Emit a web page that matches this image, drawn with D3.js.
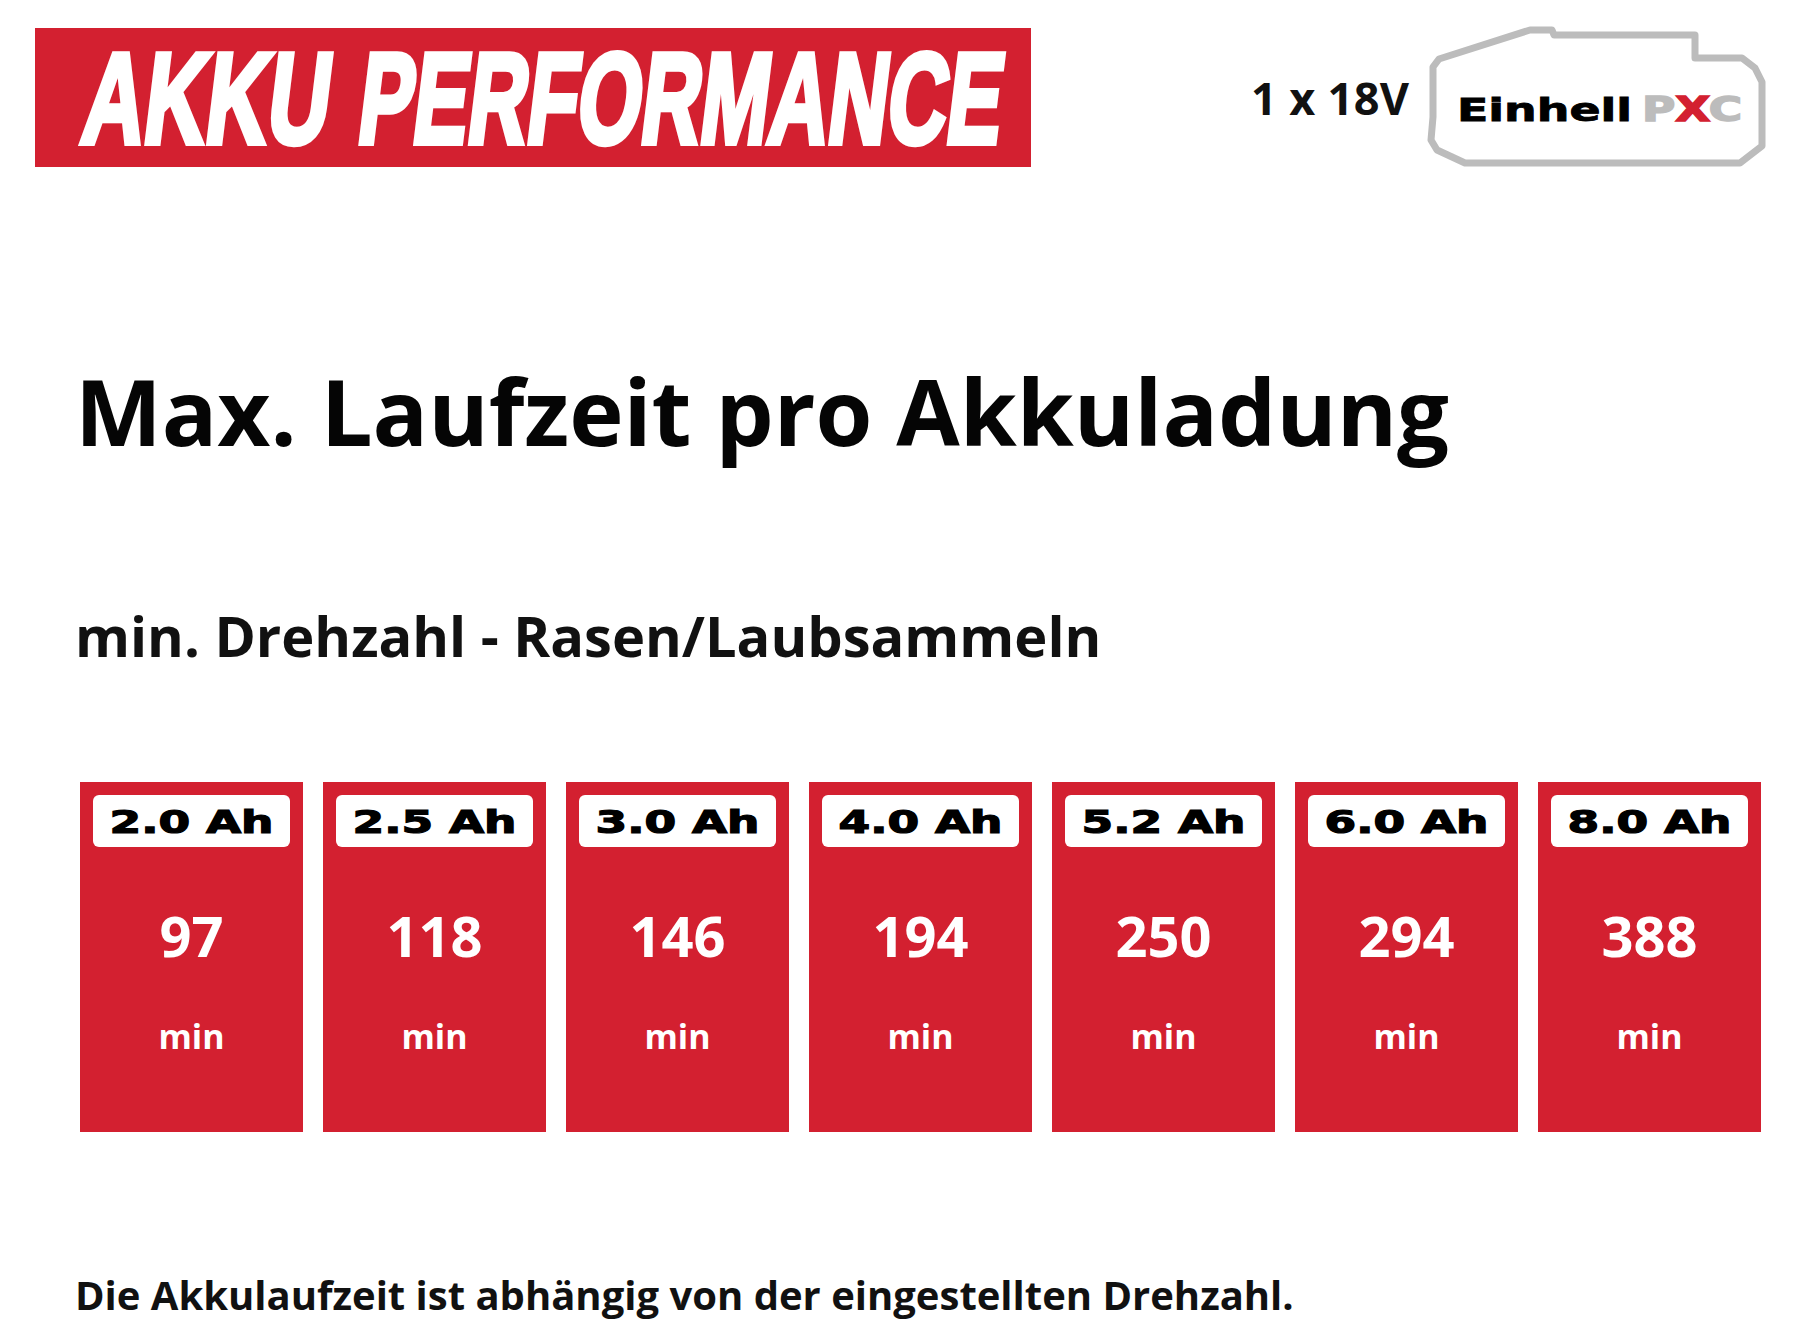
<!DOCTYPE html>
<html><head><meta charset="utf-8">
<script src="https://cdn.jsdelivr.net/npm/d3@7"></script>
<style>html,body{margin:0;padding:0;background:#fff}svg{display:block}text{font-family:"Open Sans",sans-serif}</style>
</head><body><div id="c"></div>
<script>
const capacities = ["2.0 Ah","2.5 Ah","3.0 Ah","4.0 Ah","5.2 Ah","6.0 Ah","8.0 Ah"];
const minutes = [97,118,146,194,250,294,388];
const unit = "min";
const bannerWords = ["AKKU","PERFORMANCE"];
const voltageText = "1 x 18V";
const titleText = "Max. Laufzeit pro Akkuladung";
const subtitleText = "min. Drehzahl - Rasen/Laubsammeln";
const footerText = "Die Akkulaufzeit ist abhängig von der eingestellten Drehzahl.";
const RED = "#d32030", GREY = "#bcbcbc";

const svg = d3.select("#c").append("svg").attr("width",1801).attr("height",1344);

// banner
svg.append("rect").attr("x",35).attr("y",28).attr("width",996).attr("height",139).attr("fill",RED);
const bannerPlace = [[79,247],[355,643]];
svg.selectAll("text.banner").data(bannerWords).join("text").attr("class","banner").text(d=>d)
  .attr("transform",(d,i)=>`translate(${bannerPlace[i][0]},143) skewX(-7)`)
  .attr("textLength",(d,i)=>bannerPlace[i][1]).attr("lengthAdjust","spacingAndGlyphs")
  .style("font-family","'Liberation Sans Narrow','Liberation Sans'").style("font-weight",700)
  .style("font-size","129px")
  .attr("fill","#fff").attr("stroke","#fff").attr("stroke-width",6).attr("stroke-linejoin","miter");

// battery
svg.append("text").text(voltageText).attr("x",1251).attr("y",115).attr("textLength",158)
  .style("font-size","45px").style("font-weight",700).attr("fill","#111");
const outline = [[1433,67],[1439,59],[1530,30],[1552,30],[1554,35],[1695,35],[1695,58],[1742,58],[1755,68],[1762,82],[1762,146],[1740,163],[1465,163],[1437,150],[1431,140],[1433,117]];
svg.append("path").attr("d",d3.line().curve(d3.curveLinearClosed)(outline))
  .attr("fill","none").attr("stroke",GREY).attr("stroke-width",7).attr("stroke-linejoin","round");
svg.append("text").text("Einhell").attr("x",1457).attr("y",121).attr("textLength",175).attr("lengthAdjust","spacingAndGlyphs")
  .style("font-family","'DejaVu Sans'").style("font-weight",700).style("font-size","32px")
  .attr("fill","#000").attr("stroke","#000").attr("stroke-width",0.8);
const pxc = svg.append("text").attr("x",1642).attr("y",121).attr("textLength",100).attr("lengthAdjust","spacingAndGlyphs")
  .style("font-family","'DejaVu Sans'").style("font-weight",700).style("font-size","33px");
pxc.append("tspan").text("P").attr("fill",GREY).attr("stroke",GREY).attr("stroke-width",1.5);
pxc.append("tspan").text("X").attr("fill",RED).attr("stroke",RED).attr("stroke-width",1.5);
pxc.append("tspan").text("C").attr("fill",GREY).attr("stroke",GREY).attr("stroke-width",1.5);

// titles
svg.append("text").text(titleText).attr("x",75).attr("y",446)
  .style("font-size","92px").style("font-weight",700).attr("fill","#050505");
svg.append("text").text(subtitleText).attr("x",75).attr("y",657)
  .style("font-size","56px").style("font-weight",700).attr("fill","#111");
svg.append("text").text(footerText).attr("x",75).attr("y",1310)
  .style("font-size","40px").style("font-weight",700).attr("fill","#111");

// cards
const x = d3.scaleBand().domain(capacities).range([80,1761]).paddingInner(20/243);
const cards = svg.selectAll("g.card").data(capacities.map((c,i)=>({c,m:minutes[i]}))).join("g")
  .attr("class","card").attr("transform",d=>`translate(${x(d.c)},0)`);
cards.append("rect").attr("y",782).attr("width",x.bandwidth()).attr("height",350).attr("fill",RED);
cards.append("rect").attr("x",13).attr("y",795).attr("width",x.bandwidth()-26).attr("height",52).attr("rx",6).attr("fill","#fff");
cards.append("text").text(d=>d.c).attr("x",x.bandwidth()/2-82).attr("y",833)
  .attr("textLength",164).attr("lengthAdjust","spacingAndGlyphs")
  .style("font-family","'DejaVu Sans'").style("font-weight",700).style("font-size","32px")
  .attr("fill","#000").attr("stroke","#000").attr("stroke-width",1.2);
cards.append("text").text(d=>d.m).attr("x",x.bandwidth()/2).attr("y",957).attr("text-anchor","middle")
  .style("font-size","56px").style("font-weight",700).attr("fill","#fff");
cards.append("text").text(unit).attr("x",x.bandwidth()/2).attr("y",1049).attr("text-anchor","middle")
  .style("font-size","34px").style("font-weight",700).attr("fill","#fff");
</script></body></html>
